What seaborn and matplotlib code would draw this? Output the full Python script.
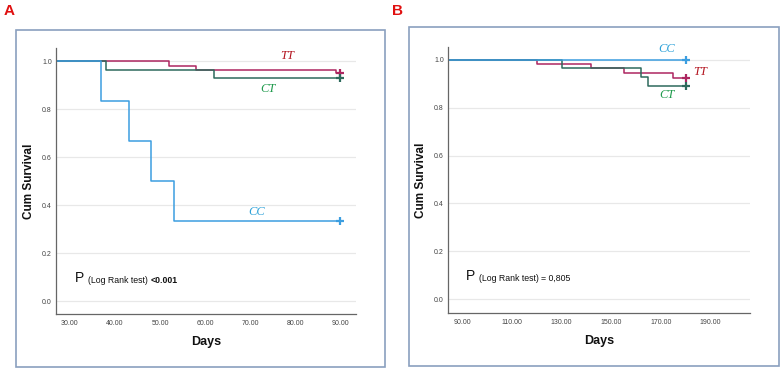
import matplotlib
matplotlib.use("Agg")
import matplotlib.pyplot as plt
import seaborn as sns
import pandas as pd
from matplotlib.patches import Rectangle
from matplotlib import font_manager

# ---------------- data ----------------
groups = ["TT", "CT", "CC"]
# Panel A (days 30-90)
a_tt_days = [0, 52, 58, 89, 90]
a_tt_surv = [1.0, 0.980, 0.964, 0.950, 0.950]
a_ct_days = [0, 38, 62, 90]
a_ct_surv = [1.0, 0.965, 0.932, 0.932]
a_cc_days = [0, 37, 43, 48, 53, 90]
a_cc_surv = [1.0, 0.833, 0.667, 0.500, 0.333, 0.333]
# Panel B (days 90-180)
b_tt_days = [0, 120, 142, 155, 175, 180]
b_tt_surv = [1.0, 0.983, 0.965, 0.944, 0.925, 0.925]
b_ct_days = [0, 130, 162, 165, 180]
b_ct_surv = [1.0, 0.965, 0.929, 0.891, 0.891]
b_cc_days = [0, 180]
b_cc_surv = [1.0, 1.0]

a_xticks = [30, 40, 50, 60, 70, 80, 90]
b_xticks = [90, 110, 130, 150, 170, 190]
yticks = [0.0, 0.2, 0.4, 0.6, 0.8, 1.0]
p_text_a = "<0.001"
p_text_b = "= 0,805"

line_colors = {"TT": "#ad2660", "CT": "#2d6a5c", "CC": "#3c9ee0"}
label_colors = {"TT": "#b3141f", "CT": "#1f9a4c", "CC": "#2aa0d8"}

available = {f.name for f in font_manager.fontManager.ttflist}
narrow = [f for f in ["Liberation Sans Narrow", "Liberation Sans", "DejaVu Sans"] if f in available]

sns.set_style("white")
plt.rcParams["font.family"] = narrow

fig = plt.figure(figsize=(7.81, 3.70), dpi=100)

def make_df(d):
    rows = []
    for g, (days, surv) in d.items():
        for t, s in zip(days, surv):
            rows.append({"group": g, "day": t, "surv": s})
    return pd.DataFrame(rows)

def draw_panel(rect, data, xlim, ylim, xticks, labels, ptext, pbold, ppos):
    ax = fig.add_axes(rect)
    df = make_df(data)
    sns.lineplot(data=df, x="day", y="surv", hue="group", palette=line_colors,
                 drawstyle="steps-post", estimator=None, sort=False,
                 linewidth=1.1, legend=False, ax=ax)
    for g, (days, surv) in data.items():
        ax.plot(days[-1], surv[-1], marker="+", ms=5.5, mew=1.6,
                color=line_colors[g], zorder=5)
    ax.set_xlim(*xlim)
    ax.set_ylim(*ylim)
    ax.set_xticks(xticks)
    ax.set_xticklabels([f"{t:.2f}" for t in xticks])
    ax.set_yticks(yticks)
    ax.set_yticklabels([f"{t:.1f}" for t in yticks])
    ax.tick_params(axis="both", length=0, labelsize=5, labelcolor="#444444")
    ax.tick_params(axis="x", pad=4)
    ax.tick_params(axis="y", pad=3)
    ax.yaxis.grid(True, color="#e8e8e8", linewidth=0.9)
    ax.set_axisbelow(True)
    for s in ["top", "right"]:
        ax.spines[s].set_visible(False)
    for s in ["left", "bottom"]:
        ax.spines[s].set_color("#666666")
        ax.spines[s].set_linewidth(0.9)
    ax.set_xlabel("Days", fontsize=9, fontweight="bold", labelpad=7, color="#111111")
    ax.set_ylabel("Cum Survival", fontsize=8.5, fontweight="bold", labelpad=5, color="#111111")
    for g, (x, y) in labels.items():
        ax.text(x, y, g, color=label_colors[g], fontsize=9, style="italic",
                family=["Liberation Serif", "DejaVu Serif"], ha="center", va="center")
    t1 = ax.text(ppos[0], ppos[1], "P ", fontsize=10, va="baseline", color="#111111")
    t2 = ax.annotate("(Log Rank test) ", xy=(1, 0), xycoords=t1, fontsize=6.3,
                     va="bottom", color="#111111")
    ax.annotate(ptext, xy=(1, 0), xycoords=t2, fontsize=6.3, va="bottom",
                color="#111111", fontweight="bold" if pbold else "normal")
    return ax

draw_panel([0.0717, 0.1514, 0.3841, 0.7189],
           {"TT": (a_tt_days, a_tt_surv), "CT": (a_ct_days, a_ct_surv), "CC": (a_cc_days, a_cc_surv)},
           (26.9, 93.5), (-0.053, 1.055), a_xticks,
           {"TT": (78.2, 1.02), "CT": (74.0, 0.885), "CC": (71.4, 0.37)},
           p_text_a, True, (31.2, 0.08))

draw_panel([0.5736, 0.154, 0.3867, 0.719],
           {"TT": (b_tt_days, b_tt_surv), "CT": (b_ct_days, b_ct_surv), "CC": (b_cc_days, b_cc_surv)},
           (84.1, 206.0), (-0.057, 1.053), b_xticks,
           {"TT": (185.8, 0.948), "CT": (172.5, 0.852), "CC": (172.5, 1.043)},
           p_text_b, False, (91.5, 0.08))

W, H = 781, 370
for (x0, y0, x1, y1) in [(16, 30, 385, 367), (409, 27, 779, 366)]:
    fig.add_artist(Rectangle((x0 / W, 1 - y1 / H), (x1 - x0) / W, (y1 - y0) / H,
                             transform=fig.transFigure, fill=False,
                             edgecolor="#8aa0bf", linewidth=1.2))

fig.text(4 / W, 1 - 11 / H, "A", color="#e01010", fontsize=11, fontweight="bold",
         va="center", ha="left")
fig.text(392 / W, 1 - 11 / H, "B", color="#e01010", fontsize=11, fontweight="bold",
         va="center", ha="left")

fig.savefig("out.png", dpi=100)
